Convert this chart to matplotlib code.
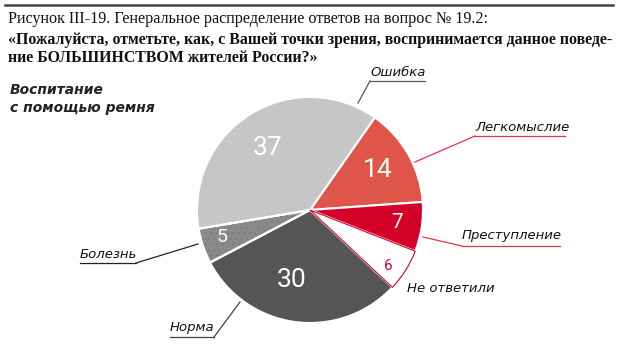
import matplotlib
matplotlib.use("Agg")
import matplotlib.pyplot as plt

W, H = 620, 359

# data (clockwise from the top-right)
labels = ["Легкомыслие", "Преступление", "Не ответили", "Норма", "Болезнь", "Ошибка"]
values = [14, 7, 6, 30, 5, 37]
colors = ["#e0554a", "#d5002a", "#ffffff", "#555555", "#8a8a8a", "#c6c6c6"]

title1 = "Рисунок III-19. Генеральное распределение ответов на вопрос № 19.2:"
title2 = "«Пожалуйста, отметьте, как, с Вашей точки зрения, воспринимается данное поведе-"
title3 = "ние БОЛЬШИНСТВОМ жителей России?»"
subtitle = "Воспитание\nс помощью ремня"


def Y(y):
    return H - y


fig = plt.figure(figsize=(W / 100, H / 100), dpi=100)
ax = fig.add_axes([0, 0, 1, 1])

cx, cy, r = 310, 210, 113
wedges, _ = ax.pie(values, colors=colors, startangle=55, counterclock=False,
                   center=(cx, Y(cy)), radius=r,
                   wedgeprops=dict(edgecolor="white", linewidth=1.5))
# red outline for the "no answer" slice
wedges[2].set_edgecolor("#d5002a")
wedges[2].set_linewidth(0.8)
wedges[2].set_zorder(3)

# light stipple on the "illness" slice, then its white border on top again
w5 = wedges[4]
plt.rcParams["hatch.linewidth"] = 0.4
ax.add_patch(matplotlib.patches.Wedge(w5.center, w5.r, w5.theta1, w5.theta2,
                                      facecolor="none", edgecolor="#767676",
                                      linewidth=0, hatch="...", zorder=1.5))
ax.add_patch(matplotlib.patches.Wedge(w5.center, w5.r, w5.theta1, w5.theta2,
                                      facecolor="none", edgecolor="white",
                                      linewidth=1.5, zorder=1.6))

ax.set_xlim(0, W)
ax.set_ylim(0, H)
ax.set_aspect("auto")
ax.axis("off")

# values on slices
num_pos = [(378, 170), (397, 223), (388, 266), (292, 280), (222, 237), (268, 148)]
num_size = [19, 15, 11, 19, 14, 19]
num_col = ["white", "white", "#d5002a", "white", "white", "white"]
for v, (x, y), s, c in zip(values, num_pos, num_size, num_col):
    ax.text(x, Y(y), str(v), ha="center", va="center", fontsize=s,
            color=c, family="Roboto", zorder=4)

# outside labels with leader lines
lab_info = [
    # text x, text y, underline (x0, x1, y), leader end, colour
    (475, 127, (475, 565, 136), (415, 162), "#e8304a"),
    (462, 236, (462, 560, 246), (423, 237), "#e8304a"),
    (407, 288, None, None, None),
    (170, 328, (170, 214, 337), (240, 302), "#444444"),
    (80, 255, (80, 136, 263), (198, 244), "#222222"),
    (370, 72, (370, 425, 81), (358, 103), "#555555"),
]
for lab, (tx, ty, ul, end, lc) in zip(labels, lab_info):
    ax.text(tx, Y(ty), lab, ha="left", va="center", fontsize=9.5,
            style="italic", color="#111111", family="DejaVu Sans")
    if ul is not None:
        x0, x1, uy = ul
        ax.plot([x0, x1], [Y(uy), Y(uy)], color=lc, lw=0.9)
        sx = x0 if abs(end[0] - x0) < abs(end[0] - x1) else x1
        ax.plot([sx, end[0]], [Y(uy), Y(end[1])], color=lc, lw=0.9)

# header
ax.plot([5, 613], [Y(5), Y(5)], color="#444444", lw=1.8)
ax.text(8, Y(19), title1, ha="left", va="center", fontsize=11.6,
        family="Liberation Serif", color="#111111")
ax.text(8, Y(40), title2, ha="left", va="center", fontsize=11.4,
        family="Liberation Serif", weight="bold", color="#111111")
ax.text(8, Y(58), title3, ha="left", va="center", fontsize=11.4,
        family="Liberation Serif", weight="bold", color="#111111")

ax.text(10, Y(99), subtitle, ha="left", va="center", fontsize=10,
        family="DejaVu Sans", weight="bold", style="italic",
        color="#222222", linespacing=1.3)

fig.savefig("out.png", dpi=100)
